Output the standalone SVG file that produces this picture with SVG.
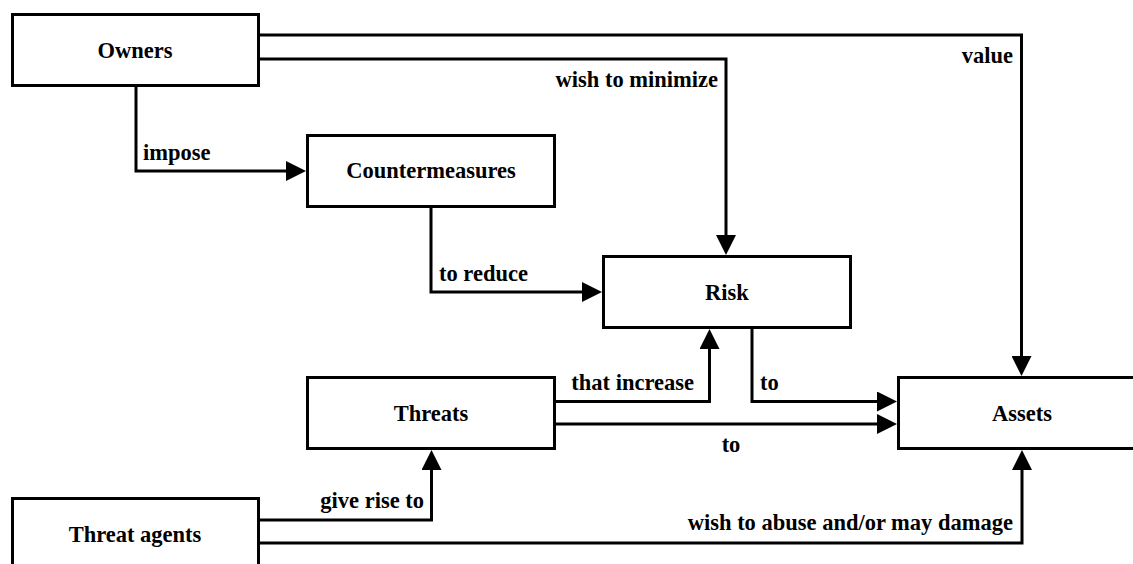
<svg xmlns="http://www.w3.org/2000/svg" width="1133" height="564" viewBox="0 0 1133 564">
  <style>
    .box { fill: #ffffff; stroke: #000000; stroke-width: 3; }
    text { font-family: 'Liberation Serif', 'Times New Roman', 'DejaVu Serif', serif; font-weight: bold; font-size: 22.5px; fill: #000000; }
    .name { text-anchor: middle; }
    .edge { fill: none; stroke: #000000; stroke-width: 3; marker-end: url(#arrow); }
    .end { text-anchor: end; }
    .mid { text-anchor: middle; }
  </style>
  <defs>
    <marker id="arrow" markerUnits="userSpaceOnUse" markerWidth="20" markerHeight="20" viewBox="0 0 20 20" refX="2" refY="10" orient="auto">
      <path d="M0,0 L20,10 L0,20 Z" fill="#000000"/>
    </marker>
  </defs>

  <rect width="1133" height="564" fill="#ffffff"/>

  <g id="connectors">
    <!-- Owners value Assets -->
    <path class="edge" d="M259 35 H1021.5 V358"/>
    <text class="end" x="1013" y="63">value</text>
    <!-- Owners wish to minimize Risk -->
    <path class="edge" d="M259 59 H726 V237"/>
    <text class="end" x="718" y="87">wish to minimize</text>
    <!-- Owners impose Countermeasures -->
    <path class="edge" d="M136 86 V171 H288"/>
    <text x="143" y="160">impose</text>
    <!-- Countermeasures to reduce Risk -->
    <path class="edge" d="M431 208 V292 H584"/>
    <text x="439" y="281">to reduce</text>
    <!-- Threats that increase Risk -->
    <path class="edge" d="M556 401.5 H709.5 V347"/>
    <text class="end" x="694" y="390">that increase</text>
    <!-- Risk to Assets -->
    <path class="edge" d="M752 329 V401.5 H879"/>
    <text x="760" y="390">to</text>
    <!-- Threats to Assets -->
    <path class="edge" d="M556 424 H879"/>
    <text class="mid" x="731" y="452">to</text>
    <!-- Threat agents give rise to Threats -->
    <path class="edge" d="M260 520 H431.5 V468"/>
    <text class="end" x="424" y="508">give rise to</text>
    <!-- Threat agents wish to abuse Assets -->
    <path class="edge" d="M260 543 H1022 V468"/>
    <text class="end" x="1013" y="530">wish to abuse and/or may damage</text>
  </g>

  <g id="owners">
    <rect class="box" x="12.5" y="14.5" width="246" height="71"/>
    <text class="name" x="135" y="58">Owners</text>
  </g>
  <g id="countermeasures">
    <rect class="box" x="307.5" y="135.5" width="247" height="71"/>
    <text class="name" x="431" y="178">Countermeasures</text>
  </g>
  <g id="risk">
    <rect class="box" x="603.5" y="256.5" width="247" height="71"/>
    <text class="name" x="727" y="300">Risk</text>
  </g>
  <g id="threats">
    <rect class="box" x="307.5" y="377.5" width="247" height="71"/>
    <text class="name" x="431" y="421">Threats</text>
  </g>
  <g id="assets">
    <rect class="box" x="898.5" y="377.5" width="247" height="71"/>
    <text class="name" x="1022" y="421">Assets</text>
  </g>
  <g id="threat-agents">
    <rect class="box" x="12.5" y="498.5" width="246" height="71"/>
    <text class="name" x="135" y="542">Threat agents</text>
  </g>
</svg>
